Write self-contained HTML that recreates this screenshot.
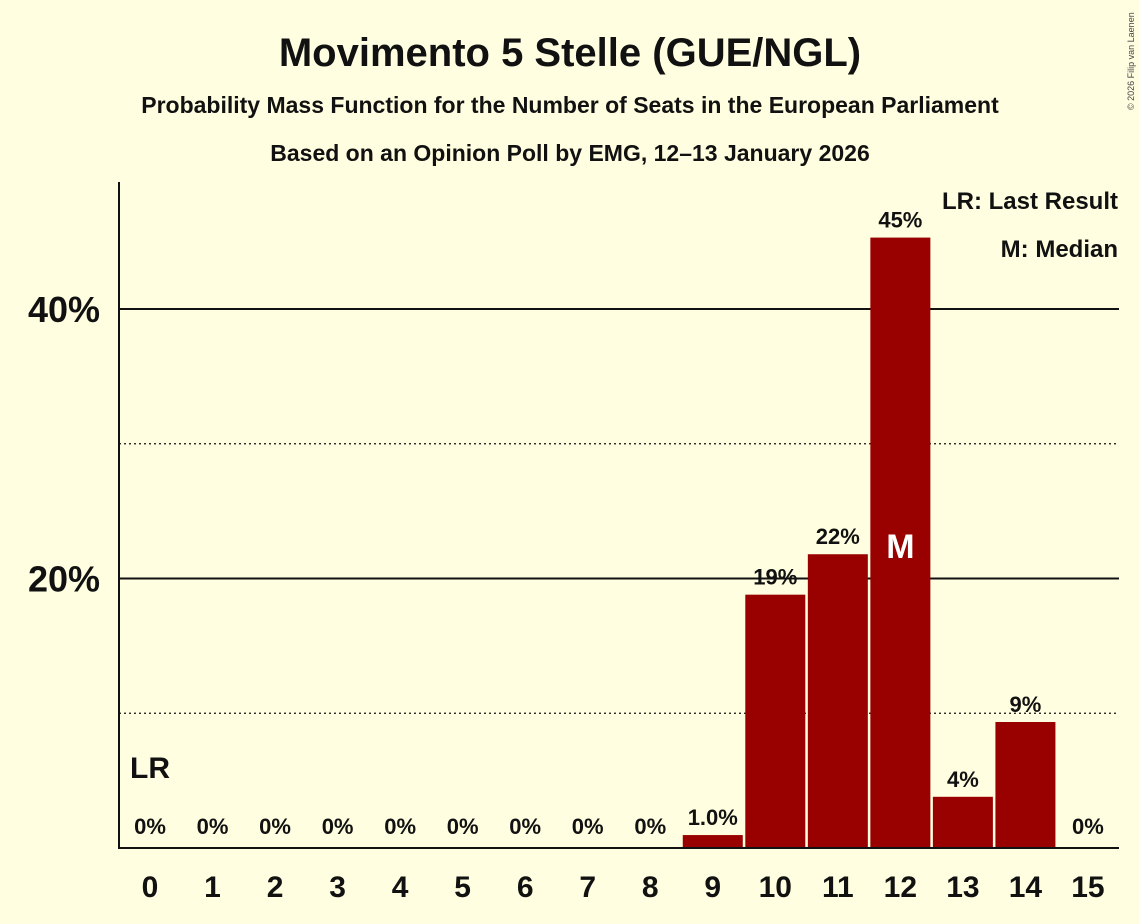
<!DOCTYPE html>
<html><head><meta charset="utf-8"><style>
body{margin:0;background:#FFFEE0;}
svg{display:block;font-family:"Liberation Sans",sans-serif;}
</style></head><body>
<svg id="c" width="1139" height="924">
<rect width="1139" height="924" fill="#FFFEE0"/>
<text x="570" y="66" text-anchor="middle" font-size="40" font-weight="bold" fill="#111">Movimento 5 Stelle (GUE/NGL)</text>
<text x="570" y="113" text-anchor="middle" font-size="23" font-weight="bold" fill="#111">Probability Mass Function for the Number of Seats in the European Parliament</text>
<text x="570" y="161" text-anchor="middle" font-size="23" font-weight="bold" fill="#111">Based on an Opinion Poll by EMG, 12–13 January 2026</text>
<text x="1134" y="110" font-size="9" fill="#444" transform="rotate(-90 1134 110)">© 2026 Filip van Laenen</text>
<g id="grid"></g>
<g id="bars"></g>
<line x1="119" y1="182" x2="119" y2="848" stroke="#111" stroke-width="2"/>
<line x1="118" y1="848" x2="1119" y2="848" stroke="#111" stroke-width="2"/>
<text x="1118" y="209" text-anchor="end" font-size="24" font-weight="bold" fill="#111">LR: Last Result</text>
<text x="1118" y="257" text-anchor="end" font-size="24" font-weight="bold" fill="#111">M: Median</text>
</svg>
<script>
const seats=[0,1,2,3,4,5,6,7,8,9,10,11,12,13,14,15];
const probs=[0,0,0,0,0,0,0,0,0,0.96,18.8,21.8,45.3,3.8,9.35,0];
const labels=["0%","0%","0%","0%","0%","0%","0%","0%","0%","1.0%","19%","22%","45%","4%","9%","0%"];
const yTicks=[20,40];
const yDotted=[10,30];
const medianSeat=12, lastResultSeat=0;
const NS="http://www.w3.org/2000/svg";
const y=v=>848-v*13.475;
const x=s=>150+s*62.53;
function mk(t,a,p){const e=document.createElementNS(NS,t);for(const k in a)e.setAttribute(k,a[k]);p.appendChild(e);return e;}
const g=document.getElementById('grid'),b=document.getElementById('bars');
yDotted.forEach(v=>{const l=mk('line',{x1:119,x2:1119,y1:y(v),y2:y(v),stroke:'#111','stroke-width':1.3,'stroke-dasharray':'2,3'},g);

});
yTicks.forEach(v=>{const l=mk('line',{x1:119,x2:1119,y1:y(v),y2:y(v),stroke:'#111','stroke-width':2},g);


const t=mk('text',{x:100,y:y(v)+13,'text-anchor':'end','font-size':36,'font-weight':'bold',fill:'#111'},g);t.textContent=v+'%';

});
seats.forEach((s,i)=>{
const p=probs[i];
if(p>0){const r=mk('rect',{x:x(s)-30,y:y(p),width:60,height:848-y(p),fill:'#990000'},b);

}
const ly=p>0?y(p)-10:834;
const t=mk('text',{x:x(s),y:ly,'text-anchor':'middle','font-size':22,'font-weight':'bold',fill:'#111'},b);t.textContent=labels[i];


const xt=mk('text',{x:x(s),y:897,'text-anchor':'middle','font-size':30,'font-weight':'bold',fill:'#111'},b);xt.textContent=s;


});
const m=mk('text',{x:x(medianSeat),y:558,'text-anchor':'middle','font-size':34,'font-weight':'bold',fill:'#fff'},b);m.textContent='M';


const lr=mk('text',{x:x(lastResultSeat),y:778,'text-anchor':'middle','font-size':30,'font-weight':'bold',fill:'#111'},b);lr.textContent='LR';


</script>
</body></html>
